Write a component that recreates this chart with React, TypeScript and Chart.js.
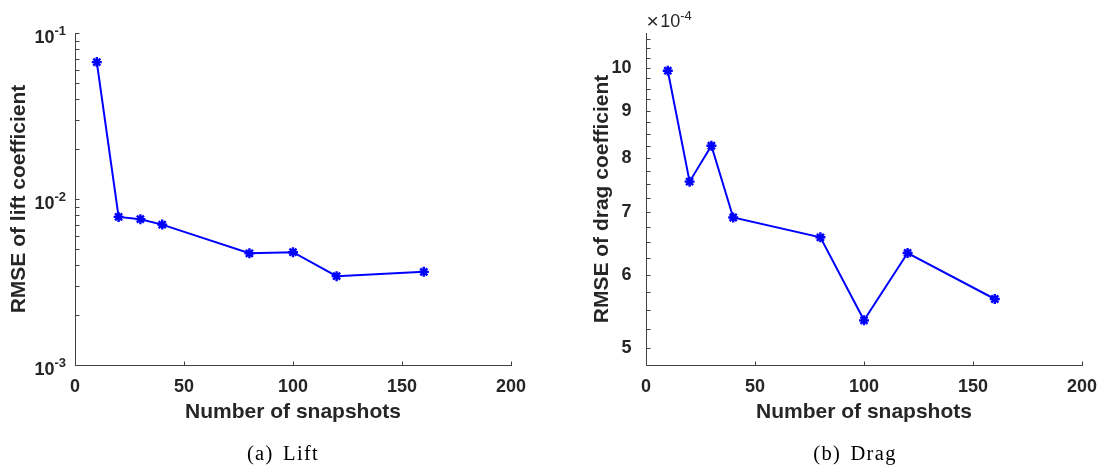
import React, { useEffect, useRef } from 'react';
import { Chart, registerables } from 'chart.js';

Chart.register(...registerables);

// ---- data ----
const snapshots = [10, 20, 30, 40, 80, 100, 120, 160];
const liftRmse = [0.0668, 0.0078, 0.00756, 0.00701, 0.00471, 0.00478, 0.00343, 0.00364];
const dragRmse = [9.93e-4, 7.55e-4, 8.25e-4, 6.91e-4, 6.58e-4, 5.36e-4, 6.33e-4, 5.65e-4];

const xTickValues = [0, 50, 100, 150, 200];
const liftTickExponents = [-3, -2, -1];
const liftMinorFactors = [2, 3, 4, 5, 6, 7, 8, 9];
const dragTickMantissas = [5, 6, 7, 8, 9, 10];
const dragMinorMantissas = [5.25, 5.5, 5.75, 6.25, 6.5, 6.75, 7.25, 7.5, 7.75, 8.25, 8.5, 8.75, 9.25, 9.5, 9.75, 10.25, 10.5, 10.75];
const dragExponent = -4;
const dragRange = [4.83e-4, 10.9e-4];
const liftRange = [1e-3, 1e-1];

// ---- styles ----
const INK = '#262626';
const AXIS = '#404040';
const BLUE = '#0000ff';
const SANS = '"Liberation Sans", Arial, Helvetica, sans-serif';
const SERIF = '"Liberation Serif", "Times New Roman", serif';
const TICK_LEN = 4;

const matlabAxes = {
  id: 'matlabAxes',
  afterDatasetsDraw(chart: any, _args: any, opts: any) {
    const { ctx, chartArea: a, scales } = chart;
    const xs = scales.x;
    const ys = scales.y;
    const L = Math.round(a.left) + 0.5;
    const B = Math.round(a.bottom) + 0.5;
    ctx.save();
    ctx.strokeStyle = AXIS;
    ctx.lineWidth = 1;
    ctx.beginPath();
    ctx.moveTo(L, Math.round(a.top));
    ctx.lineTo(L, B);
    ctx.lineTo(Math.round(a.right) + 1, B);
    xTickValues.forEach((v) => {
      const px = Math.round(xs.getPixelForValue(v)) + 0.5;
      ctx.moveTo(px, B);
      ctx.lineTo(px, B - TICK_LEN);
    });
    (opts.yTicks || []).forEach((v: number) => {
      const py = Math.round(ys.getPixelForValue(v)) + 0.5;
      ctx.moveTo(L, py);
      ctx.lineTo(L + TICK_LEN, py);
    });
    ctx.stroke();

    ctx.fillStyle = INK;
    ctx.textBaseline = 'alphabetic';
    if (opts.powerLabels) {
      opts.powerLabels.forEach((e: number) => {
        const py = ys.getPixelForValue(Math.pow(10, e));
        const exp = String(e);
        ctx.font = `bold 13px ${SANS}`;
        const we = ctx.measureText(exp).width;
        ctx.font = `bold 18px ${SANS}`;
        const wb = ctx.measureText('10').width;
        const right = a.left - 9;
        ctx.textAlign = 'left';
        ctx.fillText('10', right - we - wb, py + 9.5);
        ctx.font = `bold 13px ${SANS}`;
        ctx.fillText(exp, right - we, py + 2);
      });
    }
    if (opts.multiplier) {
      const x0 = a.left + 0.5;
      ctx.textAlign = 'left';
      ctx.font = `21px ${SANS}`;
      ctx.fillText('\u00d7', x0, 27.5);
      const wx = ctx.measureText('\u00d7').width;
      ctx.font = `18px ${SANS}`;
      ctx.fillText('10', x0 + wx + 1.5, 27.3);
      const w10 = ctx.measureText('10').width;
      ctx.font = `13px ${SANS}`;
      ctx.fillText(opts.multiplier, x0 + wx + 1.5 + w10, 20);
    }
    ctx.restore();
  },
};

function buildConfig(p: any) {
  return {
    type: 'line',
    data: {
      datasets: [
        {
          data: snapshots.map((x, i) => ({ x, y: p.values[i] })),
          borderColor: BLUE,
          backgroundColor: BLUE,
          borderWidth: 2,
          pointStyle: 'star',
          pointRadius: 5,
          pointBorderWidth: 2.4,
          pointBorderColor: BLUE,
          tension: 0,
        },
      ],
    },
    plugins: [matlabAxes],
    options: {
      responsive: false,
      devicePixelRatio: 1,
      animation: false,
      layout: { padding: { left: p.padLeft, right: p.padRight, top: 33, bottom: 46 } },
      plugins: {
        legend: { display: false },
        tooltip: { enabled: false },
        title: { display: false },
        matlabAxes: p.axesOpts,
      },
      scales: {
        x: {
          type: 'linear',
          min: 0,
          max: 200,
          afterBuildTicks: (s: any) => {
            s.ticks = xTickValues.map((v) => ({ value: v }));
          },
          afterFit: (s: any) => {
            s.height = 60;
          },
          grid: { display: false },
          border: { display: false },
          ticks: {
            color: INK,
            font: { family: SANS, size: 18, weight: 'bold' },
            padding: 3,
            maxRotation: 0,
            autoSkip: false,
          },
          title: {
            display: true,
            text: 'Number of snapshots',
            color: INK,
            font: { family: SANS, size: 21, weight: 'bold' },
            padding: 0,
          },
        },
        y: {
          type: 'logarithmic',
          min: p.yMin,
          max: p.yMax,
          afterBuildTicks: p.yBuildTicks,
          afterFit: (s: any) => {
            s.width = p.yWidth;
          },
          grid: { display: false },
          border: { display: false },
          ticks: {
            display: p.yTicksDisplay,
            color: INK,
            font: { family: SANS, size: 18, weight: 'bold' },
            padding: 6.5,
            autoSkip: false,
            callback: p.yCallback,
          },
          title: {
            display: true,
            text: p.yTitle,
            color: INK,
            font: { family: SANS, size: 21, weight: 'bold' },
            padding: 0,
          },
        },
      },
    },
  };
}

const liftMajor = liftTickExponents.map((e) => Math.pow(10, e));
const liftMinor: number[] = [];
liftTickExponents.slice(0, -1).forEach((e) => liftMinorFactors.forEach((f) => liftMinor.push(f * Math.pow(10, e))));

const leftConfig = () =>
  buildConfig({
    values: liftRmse,
    yMin: liftRange[0],
    yMax: liftRange[1],
    yTitle: 'RMSE of lift coefficient',
    yWidth: 68,
    padLeft: 7,
    padRight: 41,
    yTicksDisplay: false,
    yBuildTicks: (s: any) => {
      s.ticks = liftMajor.map((v) => ({ value: v }));
    },
    yCallback: () => '',
    axesOpts: { yTicks: liftMajor.concat(liftMinor), powerLabels: liftTickExponents },
  });

const dragScale = Math.pow(10, dragExponent);
const rightConfig = () =>
  buildConfig({
    values: dragRmse,
    yMin: dragRange[0],
    yMax: dragRange[1],
    yTitle: 'RMSE of drag coefficient',
    yWidth: 56,
    padLeft: 38,
    padRight: 21,
    yTicksDisplay: true,
    yBuildTicks: (s: any) => {
      s.ticks = dragTickMantissas.map((m) => ({ value: m * dragScale }));
    },
    yCallback: (v: number) => String(Math.round(v / dragScale)),
    axesOpts: {
      yTicks: dragTickMantissas.concat(dragMinorMantissas).map((m) => m * dragScale),
      multiplier: String(dragExponent),
    },
  });

function Panel({ makeConfig, left, width }: { makeConfig: () => any; left: number; width: number }) {
  const ref = useRef<HTMLCanvasElement>(null);
  useEffect(() => {
    const chart = new Chart(ref.current as HTMLCanvasElement, makeConfig());
    return () => chart.destroy();
  }, []);
  return (
    <canvas
      ref={ref}
      width={width}
      height={471}
      style={{ position: 'absolute', left, top: 0, width, height: 471 }}
    />
  );
}

const captionStyle = (center: number): React.CSSProperties => ({
  position: 'absolute',
  left: center - 100,
  width: 200,
  top: 443,
  textAlign: 'center',
  fontFamily: SERIF,
  fontSize: 20.5,
  lineHeight: '20px',
  letterSpacing: 1.3,
  wordSpacing: 3,
  color: '#000',
});

export default function App() {
  return (
    <div style={{ position: 'absolute', left: 0, top: 0, width: 1103, height: 471, background: '#fff' }}>
      <Panel makeConfig={leftConfig} left={0} width={552} />
      <Panel makeConfig={rightConfig} left={552} width={551} />
      <div style={captionStyle(283)}>(a) Lift</div>
      <div style={captionStyle(855)}>(b) Drag</div>
    </div>
  );
}
